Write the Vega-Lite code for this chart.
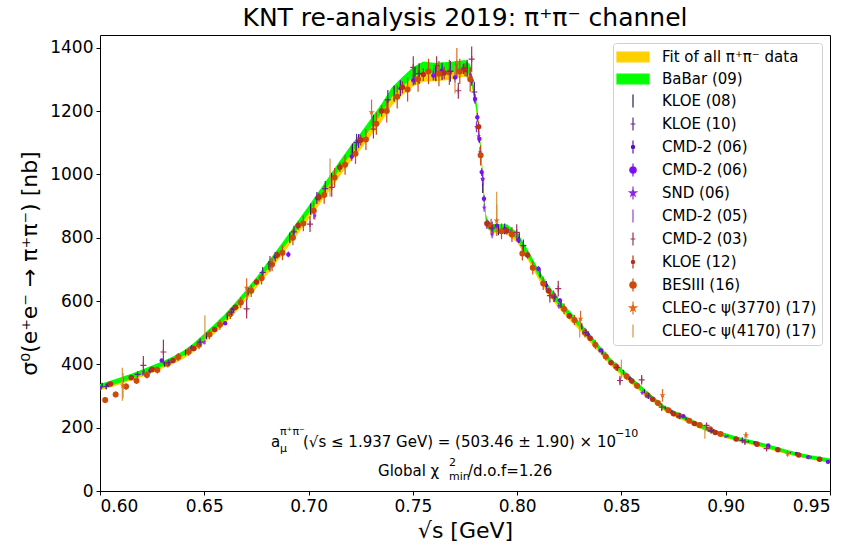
{
"$schema": "https://vega.github.io/schema/vega-lite/v6.json",
"width": 730, "height": 456,
"autosize": {"type": "none"},
"padding": {"left": 100, "top": 35, "right": 18, "bottom": 58},
"background": "white",
"title": {"text": "KNT re-analysis 2019: π⁺π⁻ channel", "fontSize": 25, "font": "DejaVu Sans", "fontWeight": "normal", "color": "black", "offset": 4, "anchor": "middle"},
"config": {
 "view": {"stroke": "black", "strokeWidth": 1},
 "font": "DejaVu Sans",
 "axis": {"grid": false, "domain": false, "tickColor": "black", "tickSize": 4, "labelColor": "black", "titleColor": "black", "labelFont": "DejaVu Sans", "titleFont": "DejaVu Sans", "labelFontSize": 17, "titleFontSize": 22, "titleFontWeight": "normal", "labelPadding": 3},
 "legend": {"orient": "top-right", "offset": 8, "padding": 5, "rowPadding": 5, "labelFontSize": 15, "labelFont": "DejaVu Sans", "labelColor": "black", "strokeColor": "#d0d0d0", "fillColor": "rgba(255,255,255,0.8)", "cornerRadius": 3, "symbolSize": 256, "labelOffset": 26, "labelLimit": 400}
},
"datasets": {
"curve": [
{"x":0.600,"b_lo":322,"b_hi":338,"f_lo":318,"f_hi":332},
{"x":0.605,"b_lo":332,"b_hi":348,"f_lo":327,"f_hi":341},
{"x":0.610,"b_lo":343,"b_hi":359,"f_lo":338,"f_hi":352},
{"x":0.615,"b_lo":354,"b_hi":370,"f_lo":349,"f_hi":363},
{"x":0.620,"b_lo":367,"b_hi":383,"f_lo":360,"f_hi":376},
{"x":0.625,"b_lo":380,"b_hi":396,"f_lo":373,"f_hi":389},
{"x":0.630,"b_lo":394,"b_hi":410,"f_lo":387,"f_hi":403},
{"x":0.635,"b_lo":409,"b_hi":425,"f_lo":401,"f_hi":417},
{"x":0.640,"b_lo":427,"b_hi":443,"f_lo":418,"f_hi":434},
{"x":0.645,"b_lo":449,"b_hi":467,"f_lo":440,"f_hi":456},
{"x":0.650,"b_lo":479,"b_hi":497,"f_lo":469,"f_hi":485},
{"x":0.655,"b_lo":509,"b_hi":527,"f_lo":497,"f_hi":515},
{"x":0.660,"b_lo":541,"b_hi":559,"f_lo":529,"f_hi":547},
{"x":0.665,"b_lo":576,"b_hi":596,"f_lo":564,"f_hi":582},
{"x":0.670,"b_lo":615,"b_hi":635,"f_lo":602,"f_hi":622},
{"x":0.675,"b_lo":655,"b_hi":675,"f_lo":641,"f_hi":661},
{"x":0.680,"b_lo":697,"b_hi":719,"f_lo":682,"f_hi":704},
{"x":0.685,"b_lo":741,"b_hi":763,"f_lo":725,"f_hi":747},
{"x":0.690,"b_lo":786,"b_hi":808,"f_lo":769,"f_hi":791},
{"x":0.695,"b_lo":830,"b_hi":854,"f_lo":812,"f_hi":836},
{"x":0.700,"b_lo":876,"b_hi":900,"f_lo":857,"f_hi":881},
{"x":0.705,"b_lo":923,"b_hi":947,"f_lo":903,"f_hi":927},
{"x":0.710,"b_lo":969,"b_hi":995,"f_lo":948,"f_hi":974},
{"x":0.715,"b_lo":1017,"b_hi":1043,"f_lo":995,"f_hi":1021},
{"x":0.720,"b_lo":1061,"b_hi":1089,"f_lo":1039,"f_hi":1065},
{"x":0.725,"b_lo":1103,"b_hi":1131,"f_lo":1079,"f_hi":1107},
{"x":0.730,"b_lo":1148,"b_hi":1176,"f_lo":1123,"f_hi":1151},
{"x":0.735,"b_lo":1193,"b_hi":1223,"f_lo":1167,"f_hi":1197},
{"x":0.740,"b_lo":1245,"b_hi":1275,"f_lo":1217,"f_hi":1247},
{"x":0.745,"b_lo":1277,"b_hi":1307,"f_lo":1250,"f_hi":1280},
{"x":0.750,"b_lo":1306,"b_hi":1338,"f_lo":1277,"f_hi":1307},
{"x":0.755,"b_lo":1324,"b_hi":1356,"f_lo":1292,"f_hi":1324},
{"x":0.760,"b_lo":1320,"b_hi":1352,"f_lo":1294,"f_hi":1326},
{"x":0.765,"b_lo":1322,"b_hi":1354,"f_lo":1296,"f_hi":1328},
{"x":0.770,"b_lo":1324,"b_hi":1356,"f_lo":1302,"f_hi":1334},
{"x":0.775,"b_lo":1329,"b_hi":1361,"f_lo":1309,"f_hi":1341},
{"x":0.7775,"b_lo":1314,"b_hi":1346,"f_lo":1299,"f_hi":1331},
{"x":0.779,"b_lo":1257,"b_hi":1287,"f_lo":1250,"f_hi":1280},
{"x":0.780,"b_lo":1223,"b_hi":1253,"f_lo":1217,"f_hi":1247},
{"x":0.781,"b_lo":1177,"b_hi":1207,"f_lo":1171,"f_hi":1201},
{"x":0.782,"b_lo":1106,"b_hi":1134,"f_lo":1101,"f_hi":1129},
{"x":0.783,"b_lo":1027,"b_hi":1053,"f_lo":1023,"f_hi":1049},
{"x":0.784,"b_lo":930,"b_hi":954,"f_lo":928,"f_hi":952},
{"x":0.785,"b_lo":850,"b_hi":874,"f_lo":850,"f_hi":874},
{"x":0.786,"b_lo":828,"b_hi":852,"f_lo":826,"f_hi":850},
{"x":0.788,"b_lo":820,"b_hi":844,"f_lo":816,"f_hi":840},
{"x":0.790,"b_lo":818,"b_hi":842,"f_lo":813,"f_hi":837},
{"x":0.795,"b_lo":818,"b_hi":842,"f_lo":810,"f_hi":834},
{"x":0.800,"b_lo":795,"b_hi":817,"f_lo":785,"f_hi":807},
{"x":0.805,"b_lo":741,"b_hi":763,"f_lo":731,"f_hi":753},
{"x":0.810,"b_lo":681,"b_hi":703,"f_lo":671,"f_hi":693},
{"x":0.815,"b_lo":630,"b_hi":650,"f_lo":620,"f_hi":640},
{"x":0.820,"b_lo":586,"b_hi":606,"f_lo":576,"f_hi":596},
{"x":0.825,"b_lo":551,"b_hi":569,"f_lo":541,"f_hi":559},
{"x":0.830,"b_lo":516,"b_hi":534,"f_lo":507,"f_hi":525},
{"x":0.835,"b_lo":477,"b_hi":495,"f_lo":469,"f_hi":487},
{"x":0.840,"b_lo":439,"b_hi":455,"f_lo":432,"f_hi":448},
{"x":0.845,"b_lo":402,"b_hi":418,"f_lo":395,"f_hi":411},
{"x":0.850,"b_lo":372,"b_hi":388,"f_lo":365,"f_hi":381},
{"x":0.855,"b_lo":342,"b_hi":358,"f_lo":336,"f_hi":352},
{"x":0.860,"b_lo":313,"b_hi":329,"f_lo":308,"f_hi":324},
{"x":0.865,"b_lo":285,"b_hi":299,"f_lo":281,"f_hi":295},
{"x":0.870,"b_lo":258,"b_hi":272,"f_lo":255,"f_hi":269},
{"x":0.875,"b_lo":240,"b_hi":254,"f_lo":236,"f_hi":250},
{"x":0.880,"b_lo":225,"b_hi":239,"f_lo":221,"f_hi":235},
{"x":0.885,"b_lo":208,"b_hi":222,"f_lo":205,"f_hi":219},
{"x":0.890,"b_lo":193,"b_hi":207,"f_lo":190,"f_hi":204},
{"x":0.895,"b_lo":181,"b_hi":193,"f_lo":178,"f_hi":190},
{"x":0.900,"b_lo":170,"b_hi":182,"f_lo":167,"f_hi":179},
{"x":0.905,"b_lo":160,"b_hi":172,"f_lo":157,"f_hi":169},
{"x":0.910,"b_lo":152,"b_hi":164,"f_lo":149,"f_hi":161},
{"x":0.915,"b_lo":144,"b_hi":156,"f_lo":141,"f_hi":153},
{"x":0.920,"b_lo":136,"b_hi":148,"f_lo":133,"f_hi":145},
{"x":0.925,"b_lo":126,"b_hi":138,"f_lo":124,"f_hi":136},
{"x":0.930,"b_lo":117,"b_hi":129,"f_lo":115,"f_hi":127},
{"x":0.935,"b_lo":109,"b_hi":121,"f_lo":107,"f_hi":119},
{"x":0.940,"b_lo":102,"b_hi":114,"f_lo":100,"f_hi":112},
{"x":0.945,"b_lo":96,"b_hi":108,"f_lo":94,"f_hi":106},
{"x":0.950,"b_lo":91,"b_hi":103,"f_lo":89,"f_hi":101}
],
"pts": [
{"e":"KLOE (08)","x":0.601,"y":335,"lo":328,"hi":342},
{"e":"KLOE (08)","x":0.611,"y":352,"lo":345,"hi":359},
{"e":"KLOE (08)","x":0.621,"y":376,"lo":368,"hi":384},
{"e":"KLOE (08)","x":0.631,"y":400,"lo":392,"hi":408},
{"e":"KLOE (08)","x":0.641,"y":437,"lo":428,"hi":446},
{"e":"KLOE (08)","x":0.651,"y":490,"lo":480,"hi":500},
{"e":"KLOE (08)","x":0.661,"y":552,"lo":541,"hi":563},
{"e":"KLOE (08)","x":0.671,"y":630,"lo":617,"hi":643},
{"e":"KLOE (08)","x":0.681,"y":712,"lo":698,"hi":726},
{"e":"KLOE (08)","x":0.691,"y":800,"lo":784,"hi":816},
{"e":"KLOE (08)","x":0.701,"y":890,"lo":872,"hi":908},
{"e":"KLOE (08)","x":0.711,"y":985,"lo":965,"hi":1005},
{"e":"KLOE (08)","x":0.721,"y":1075,"lo":1053,"hi":1097},
{"e":"KLOE (08)","x":0.731,"y":1165,"lo":1142,"hi":1188},
{"e":"KLOE (08)","x":0.741,"y":1255,"lo":1230,"hi":1280},
{"e":"KLOE (08)","x":0.751,"y":1310,"lo":1284,"hi":1336},
{"e":"KLOE (08)","x":0.761,"y":1320,"lo":1294,"hi":1346},
{"e":"KLOE (08)","x":0.771,"y":1330,"lo":1303,"hi":1357},
{"e":"KLOE (08)","x":0.776,"y":1335,"lo":1308,"hi":1362},
{"e":"KLOE (08)","x":0.7835,"y":960,"lo":941,"hi":979},
{"e":"KLOE (08)","x":0.791,"y":825,"lo":808,"hi":842},
{"e":"KLOE (08)","x":0.801,"y":800,"lo":784,"hi":816},
{"e":"KLOE (08)","x":0.811,"y":688,"lo":674,"hi":702},
{"e":"KLOE (08)","x":0.821,"y":590,"lo":578,"hi":602},
{"e":"KLOE (08)","x":0.831,"y":520,"lo":510,"hi":530},
{"e":"KLOE (08)","x":0.841,"y":440,"lo":431,"hi":449},
{"e":"KLOE (08)","x":0.851,"y":375,"lo":368,"hi":382},
{"e":"KLOE (08)","x":0.861,"y":315,"lo":309,"hi":321},
{"e":"KLOE (08)","x":0.871,"y":262,"lo":257,"hi":267},
{"e":"KLOE (08)","x":0.881,"y":228,"lo":223,"hi":233},
{"e":"KLOE (08)","x":0.891,"y":198,"lo":194,"hi":202},
{"e":"KLOE (08)","x":0.901,"y":174,"lo":171,"hi":177},
{"e":"KLOE (08)","x":0.911,"y":156,"lo":153,"hi":159},
{"e":"KLOE (08)","x":0.921,"y":140,"lo":137,"hi":143},
{"e":"KLOE (08)","x":0.931,"y":121,"lo":119,"hi":123},
{"e":"KLOE (08)","x":0.941,"y":107,"lo":105,"hi":109},
{"e":"KLOE (10)","x":0.603,"y":330,"lo":322,"hi":338},
{"e":"KLOE (10)","x":0.618,"y":368,"lo":359,"hi":377},
{"e":"KLOE (10)","x":0.633,"y":405,"lo":395,"hi":415},
{"e":"KLOE (10)","x":0.648,"y":470,"lo":458,"hi":482},
{"e":"KLOE (10)","x":0.663,"y":565,"lo":551,"hi":579},
{"e":"KLOE (10)","x":0.678,"y":690,"lo":673,"hi":707},
{"e":"KLOE (10)","x":0.693,"y":818,"lo":798,"hi":838},
{"e":"KLOE (10)","x":0.708,"y":955,"lo":931,"hi":979},
{"e":"KLOE (10)","x":0.723,"y":1100,"lo":1072,"hi":1128},
{"e":"KLOE (10)","x":0.738,"y":1235,"lo":1204,"hi":1266},
{"e":"KLOE (10)","x":0.753,"y":1318,"lo":1285,"hi":1351},
{"e":"KLOE (10)","x":0.768,"y":1325,"lo":1292,"hi":1358},
{"e":"KLOE (10)","x":0.7795,"y":1260,"lo":1228,"hi":1292},
{"e":"KLOE (10)","x":0.788,"y":830,"lo":809,"hi":851},
{"e":"KLOE (10)","x":0.803,"y":775,"lo":756,"hi":794},
{"e":"KLOE (10)","x":0.818,"y":612,"lo":597,"hi":627},
{"e":"KLOE (10)","x":0.833,"y":500,"lo":488,"hi":512},
{"e":"KLOE (10)","x":0.848,"y":390,"lo":380,"hi":400},
{"e":"KLOE (10)","x":0.863,"y":300,"lo":292,"hi":308},
{"e":"KLOE (10)","x":0.878,"y":236,"lo":230,"hi":242},
{"e":"KLOE (10)","x":0.893,"y":190,"lo":185,"hi":195},
{"e":"KLOE (10)","x":0.908,"y":160,"lo":156,"hi":164},
{"e":"CMD-2 (06)","x":0.604,"y":336,"lo":329,"hi":343},
{"e":"CMD-2 (06)","x":0.624,"y":380,"lo":372,"hi":388},
{"e":"CMD-2 (06)","x":0.644,"y":452,"lo":443,"hi":461},
{"e":"CMD-2 (06)","x":0.664,"y":575,"lo":563,"hi":587},
{"e":"CMD-2 (06)","x":0.684,"y":740,"lo":725,"hi":755},
{"e":"CMD-2 (06)","x":0.704,"y":925,"lo":906,"hi":944},
{"e":"CMD-2 (06)","x":0.724,"y":1105,"lo":1083,"hi":1127},
{"e":"CMD-2 (06)","x":0.744,"y":1272,"lo":1247,"hi":1297},
{"e":"CMD-2 (06)","x":0.764,"y":1325,"lo":1298,"hi":1352},
{"e":"CMD-2 (06)","x":0.7835,"y":985,"lo":965,"hi":1005},
{"e":"CMD-2 (06)","x":0.794,"y":828,"lo":811,"hi":845},
{"e":"CMD-2 (06)","x":0.814,"y":650,"lo":637,"hi":663},
{"e":"CMD-2 (06)","x":0.834,"y":495,"lo":485,"hi":505},
{"e":"CMD-2 (06)","x":0.854,"y":355,"lo":348,"hi":362},
{"e":"CMD-2 (06)","x":0.874,"y":250,"lo":245,"hi":255},
{"e":"CMD-2 (06)","x":0.894,"y":190,"lo":186,"hi":194},
{"e":"CMD-2 (06)","x":0.914,"y":152,"lo":149,"hi":155},
{"e":"CMD-2 (06)","x":0.934,"y":118,"lo":116,"hi":120},
{"e":"CMD-2 (06)#2","x":0.600,"y":326,"lo":322,"hi":330},
{"e":"CMD-2 (06)#2","x":0.6296,"y":412,"lo":407,"hi":417},
{"e":"CMD-2 (06)#2","x":0.660,"y":530,"lo":524,"hi":536},
{"e":"CMD-2 (06)#2","x":0.6903,"y":747,"lo":738,"hi":756},
{"e":"CMD-2 (06)#2","x":0.7207,"y":1056,"lo":1043,"hi":1069},
{"e":"CMD-2 (06)#2","x":0.7502,"y":1297,"lo":1281,"hi":1313},
{"e":"CMD-2 (06)#2","x":0.7598,"y":1312,"lo":1296,"hi":1328},
{"e":"CMD-2 (06)#2","x":0.7638,"y":1327,"lo":1311,"hi":1343},
{"e":"CMD-2 (06)#2","x":0.7702,"y":1306,"lo":1290,"hi":1322},
{"e":"CMD-2 (06)#2","x":0.7742,"y":1333,"lo":1317,"hi":1349},
{"e":"CMD-2 (06)#2","x":0.7782,"y":1296,"lo":1280,"hi":1312},
{"e":"CMD-2 (06)#2","x":0.7798,"y":1238,"lo":1223,"hi":1253},
{"e":"CMD-2 (06)#2","x":0.7809,"y":1180,"lo":1166,"hi":1194},
{"e":"CMD-2 (06)#2","x":0.7819,"y":1112,"lo":1099,"hi":1125},
{"e":"CMD-2 (06)#2","x":0.7830,"y":1007,"lo":995,"hi":1019},
{"e":"CMD-2 (06)#2","x":0.7841,"y":923,"lo":912,"hi":934},
{"e":"CMD-2 (06)#2","x":0.7862,"y":844,"lo":834,"hi":854},
{"e":"CMD-2 (06)#2","x":0.7902,"y":838,"lo":828,"hi":848},
{"e":"CMD-2 (06)#2","x":0.7942,"y":823,"lo":813,"hi":833},
{"e":"CMD-2 (06)#2","x":0.8006,"y":793,"lo":783,"hi":803},
{"e":"CMD-2 (06)#2","x":0.8102,"y":702,"lo":694,"hi":710},
{"e":"CMD-2 (06)#2","x":0.8205,"y":602,"lo":595,"hi":609},
{"e":"CMD-2 (06)#2","x":0.8400,"y":444,"lo":439,"hi":449},
{"e":"CMD-2 (06)#2","x":0.8797,"y":236,"lo":233,"hi":239},
{"e":"CMD-2 (06)#2","x":0.9204,"y":144,"lo":142,"hi":146},
{"e":"CMD-2 (06)#2","x":0.9396,"y":107,"lo":106,"hi":108},
{"e":"CMD-2 (06)#2","x":0.9490,"y":92,"lo":91,"hi":93},
{"e":"SND (06)","x":0.650,"y":470,"lo":463,"hi":477},
{"e":"SND (06)","x":0.703,"y":870,"lo":857,"hi":883},
{"e":"SND (06)","x":0.760,"y":1318,"lo":1298,"hi":1338},
{"e":"SND (06)","x":0.7775,"y":1315,"lo":1295,"hi":1335},
{"e":"SND (06)","x":0.7805,"y":1150,"lo":1133,"hi":1167},
{"e":"SND (06)","x":0.7815,"y":1120,"lo":1103,"hi":1137},
{"e":"SND (06)","x":0.7822,"y":1070,"lo":1054,"hi":1086},
{"e":"SND (06)","x":0.7834,"y":985,"lo":970,"hi":1000},
{"e":"SND (06)","x":0.7842,"y":895,"lo":882,"hi":908},
{"e":"SND (06)","x":0.7855,"y":840,"lo":827,"hi":853},
{"e":"SND (06)","x":0.788,"y":810,"lo":798,"hi":822},
{"e":"SND (06)","x":0.797,"y":815,"lo":803,"hi":827},
{"e":"SND (06)","x":0.820,"y":585,"lo":576,"hi":594},
{"e":"SND (06)","x":0.860,"y":310,"lo":305,"hi":315},
{"e":"SND (06)","x":0.900,"y":172,"lo":169,"hi":175},
{"e":"SND (06)","x":0.940,"y":105,"lo":103,"hi":107},
{"e":"CMD-2 (05)","x":0.6205,"y":372,"lo":364,"hi":380},
{"e":"CMD-2 (05)","x":0.6705,"y":615,"lo":603,"hi":627},
{"e":"CMD-2 (05)","x":0.7205,"y":1070,"lo":1050,"hi":1090},
{"e":"CMD-2 (05)","x":0.7705,"y":1330,"lo":1305,"hi":1355},
{"e":"CMD-2 (05)","x":0.7885,"y":826,"lo":811,"hi":841},
{"e":"CMD-2 (05)","x":0.8405,"y":440,"lo":430,"hi":450},
{"e":"CMD-2 (05)","x":0.8905,"y":196,"lo":191,"hi":201},
{"e":"CMD-2 (03)","x":0.6208,"y":397,"lo":368,"hi":426},
{"e":"CMD-2 (03)","x":0.6304,"y":439,"lo":400,"hi":478},
{"e":"CMD-2 (03)","x":0.6703,"y":575,"lo":545,"hi":605},
{"e":"CMD-2 (03)","x":0.6815,"y":717,"lo":692,"hi":742},
{"e":"CMD-2 (03)","x":0.7007,"y":843,"lo":818,"hi":868},
{"e":"CMD-2 (03)","x":0.7111,"y":959,"lo":929,"hi":989},
{"e":"CMD-2 (03)","x":0.7311,"y":1143,"lo":1113,"hi":1173},
{"e":"CMD-2 (03)","x":0.7502,"y":1338,"lo":1303,"hi":1373},
{"e":"CMD-2 (03)","x":0.7614,"y":1343,"lo":1313,"hi":1373},
{"e":"CMD-2 (03)","x":0.7718,"y":1264,"lo":1239,"hi":1289},
{"e":"CMD-2 (03)","x":0.7782,"y":1364,"lo":1324,"hi":1404},
{"e":"CMD-2 (03)","x":0.7998,"y":817,"lo":792,"hi":842},
{"e":"CMD-2 (03)","x":0.8157,"y":617,"lo":595,"hi":639},
{"e":"CMD-2 (03)","x":0.8197,"y":639,"lo":614,"hi":664},
{"e":"CMD-2 (03)","x":0.8493,"y":349,"lo":334,"hi":364},
{"e":"CMD-2 (03)","x":0.8597,"y":351,"lo":336,"hi":366},
{"e":"CMD-2 (03)","x":0.8693,"y":265,"lo":253,"hi":277},
{"e":"CMD-2 (03)","x":0.8908,"y":207,"lo":199,"hi":215},
{"e":"CMD-2 (03)","x":0.9092,"y":155,"lo":149,"hi":161},
{"e":"CMD-2 (03)","x":0.9196,"y":134,"lo":129,"hi":139},
{"e":"KLOE (12)","x":0.605,"y":338,"lo":333,"hi":343},
{"e":"KLOE (12)","x":0.615,"y":358,"lo":353,"hi":363},
{"e":"KLOE (12)","x":0.625,"y":384,"lo":378,"hi":390},
{"e":"KLOE (12)","x":0.635,"y":412,"lo":406,"hi":418},
{"e":"KLOE (12)","x":0.645,"y":450,"lo":443,"hi":457},
{"e":"KLOE (12)","x":0.655,"y":510,"lo":502,"hi":518},
{"e":"KLOE (12)","x":0.665,"y":580,"lo":571,"hi":589},
{"e":"KLOE (12)","x":0.675,"y":660,"lo":650,"hi":670},
{"e":"KLOE (12)","x":0.685,"y":745,"lo":734,"hi":756},
{"e":"KLOE (12)","x":0.695,"y":838,"lo":825,"hi":851},
{"e":"KLOE (12)","x":0.705,"y":928,"lo":914,"hi":942},
{"e":"KLOE (12)","x":0.715,"y":1022,"lo":1007,"hi":1037},
{"e":"KLOE (12)","x":0.725,"y":1108,"lo":1091,"hi":1125},
{"e":"KLOE (12)","x":0.735,"y":1200,"lo":1182,"hi":1218},
{"e":"KLOE (12)","x":0.745,"y":1275,"lo":1256,"hi":1294},
{"e":"KLOE (12)","x":0.755,"y":1315,"lo":1295,"hi":1335},
{"e":"KLOE (12)","x":0.765,"y":1320,"lo":1300,"hi":1340},
{"e":"KLOE (12)","x":0.775,"y":1330,"lo":1310,"hi":1350},
{"e":"KLOE (12)","x":0.7815,"y":1150,"lo":1133,"hi":1167},
{"e":"KLOE (12)","x":0.7855,"y":845,"lo":832,"hi":858},
{"e":"KLOE (12)","x":0.795,"y":822,"lo":810,"hi":834},
{"e":"KLOE (12)","x":0.805,"y":745,"lo":734,"hi":756},
{"e":"KLOE (12)","x":0.815,"y":632,"lo":623,"hi":641},
{"e":"KLOE (12)","x":0.825,"y":553,"lo":545,"hi":561},
{"e":"KLOE (12)","x":0.835,"y":482,"lo":475,"hi":489},
{"e":"KLOE (12)","x":0.845,"y":405,"lo":399,"hi":411},
{"e":"KLOE (12)","x":0.855,"y":347,"lo":342,"hi":352},
{"e":"KLOE (12)","x":0.865,"y":290,"lo":286,"hi":294},
{"e":"KLOE (12)","x":0.875,"y":244,"lo":240,"hi":248},
{"e":"KLOE (12)","x":0.885,"y":213,"lo":210,"hi":216},
{"e":"KLOE (12)","x":0.895,"y":185,"lo":182,"hi":188},
{"e":"KLOE (12)","x":0.905,"y":164,"lo":162,"hi":166},
{"e":"KLOE (12)","x":0.915,"y":148,"lo":146,"hi":150},
{"e":"KLOE (12)","x":0.925,"y":130,"lo":128,"hi":132},
{"e":"KLOE (12)","x":0.935,"y":114,"lo":112,"hi":116},
{"e":"KLOE (12)","x":0.945,"y":100,"lo":98,"hi":102},
{"e":"BESIII (16)","x":0.6025,"y":287,"lo":278,"hi":296},
{"e":"BESIII (16)","x":0.6075,"y":305,"lo":296,"hi":314},
{"e":"BESIII (16)","x":0.6125,"y":330,"lo":320,"hi":340},
{"e":"BESIII (16)","x":0.6175,"y":348,"lo":338,"hi":358},
{"e":"BESIII (16)","x":0.6225,"y":366,"lo":355,"hi":377},
{"e":"BESIII (16)","x":0.6275,"y":382,"lo":371,"hi":393},
{"e":"BESIII (16)","x":0.6325,"y":402,"lo":390,"hi":414},
{"e":"BESIII (16)","x":0.6375,"y":423,"lo":410,"hi":436},
{"e":"BESIII (16)","x":0.6425,"y":440,"lo":427,"hi":453},
{"e":"BESIII (16)","x":0.6475,"y":462,"lo":448,"hi":476},
{"e":"BESIII (16)","x":0.6525,"y":494,"lo":479,"hi":509},
{"e":"BESIII (16)","x":0.6575,"y":525,"lo":509,"hi":541},
{"e":"BESIII (16)","x":0.6625,"y":560,"lo":543,"hi":577},
{"e":"BESIII (16)","x":0.6675,"y":595,"lo":577,"hi":613},
{"e":"BESIII (16)","x":0.6725,"y":632,"lo":613,"hi":651},
{"e":"BESIII (16)","x":0.6775,"y":672,"lo":652,"hi":692},
{"e":"BESIII (16)","x":0.6825,"y":715,"lo":694,"hi":736},
{"e":"BESIII (16)","x":0.6875,"y":752,"lo":729,"hi":775},
{"e":"BESIII (16)","x":0.6925,"y":800,"lo":776,"hi":824},
{"e":"BESIII (16)","x":0.6975,"y":845,"lo":820,"hi":870},
{"e":"BESIII (16)","x":0.7025,"y":885,"lo":858,"hi":912},
{"e":"BESIII (16)","x":0.7075,"y":935,"lo":907,"hi":963},
{"e":"BESIII (16)","x":0.7125,"y":990,"lo":960,"hi":1020},
{"e":"BESIII (16)","x":0.7175,"y":1030,"lo":999,"hi":1061},
{"e":"BESIII (16)","x":0.7225,"y":1065,"lo":1033,"hi":1097},
{"e":"BESIII (16)","x":0.7275,"y":1110,"lo":1077,"hi":1143},
{"e":"BESIII (16)","x":0.7325,"y":1160,"lo":1125,"hi":1195},
{"e":"BESIII (16)","x":0.7375,"y":1200,"lo":1164,"hi":1236},
{"e":"BESIII (16)","x":0.7425,"y":1245,"lo":1208,"hi":1282},
{"e":"BESIII (16)","x":0.7475,"y":1268,"lo":1230,"hi":1306},
{"e":"BESIII (16)","x":0.7525,"y":1300,"lo":1261,"hi":1339},
{"e":"BESIII (16)","x":0.7575,"y":1325,"lo":1285,"hi":1365},
{"e":"BESIII (16)","x":0.7625,"y":1318,"lo":1278,"hi":1358},
{"e":"BESIII (16)","x":0.7675,"y":1322,"lo":1282,"hi":1362},
{"e":"BESIII (16)","x":0.7725,"y":1325,"lo":1285,"hi":1365},
{"e":"BESIII (16)","x":0.7775,"y":1300,"lo":1261,"hi":1339},
{"e":"BESIII (16)","x":0.7825,"y":1060,"lo":1028,"hi":1092},
{"e":"BESIII (16)","x":0.7875,"y":835,"lo":810,"hi":860},
{"e":"BESIII (16)","x":0.7925,"y":820,"lo":795,"hi":845},
{"e":"BESIII (16)","x":0.7975,"y":810,"lo":786,"hi":834},
{"e":"BESIII (16)","x":0.8025,"y":750,"lo":728,"hi":772},
{"e":"BESIII (16)","x":0.8075,"y":705,"lo":684,"hi":726},
{"e":"BESIII (16)","x":0.8125,"y":655,"lo":635,"hi":675},
{"e":"BESIII (16)","x":0.8175,"y":615,"lo":597,"hi":633},
{"e":"BESIII (16)","x":0.8225,"y":575,"lo":558,"hi":592},
{"e":"BESIII (16)","x":0.8275,"y":540,"lo":524,"hi":556},
{"e":"BESIII (16)","x":0.8325,"y":500,"lo":485,"hi":515},
{"e":"BESIII (16)","x":0.8375,"y":462,"lo":448,"hi":476},
{"e":"BESIII (16)","x":0.8425,"y":425,"lo":412,"hi":438},
{"e":"BESIII (16)","x":0.8475,"y":392,"lo":380,"hi":404},
{"e":"BESIII (16)","x":0.8525,"y":362,"lo":351,"hi":373},
{"e":"BESIII (16)","x":0.8575,"y":332,"lo":322,"hi":342},
{"e":"BESIII (16)","x":0.8625,"y":302,"lo":293,"hi":311},
{"e":"BESIII (16)","x":0.8675,"y":278,"lo":270,"hi":286},
{"e":"BESIII (16)","x":0.8725,"y":255,"lo":247,"hi":263},
{"e":"BESIII (16)","x":0.8775,"y":238,"lo":231,"hi":245},
{"e":"BESIII (16)","x":0.8825,"y":222,"lo":215,"hi":229},
{"e":"BESIII (16)","x":0.8875,"y":208,"lo":202,"hi":214},
{"e":"BESIII (16)","x":0.8925,"y":195,"lo":189,"hi":201},
{"e":"BESIII (16)","x":0.8975,"y":180,"lo":175,"hi":185},
{"e":"CLEO-c ψ(3770) (17)","x":0.611,"y":333,"lo":293,"hi":373},
{"e":"CLEO-c ψ(3770) (17)","x":0.6703,"y":642,"lo":612,"hi":672},
{"e":"CLEO-c ψ(3770) (17)","x":0.7302,"y":1196,"lo":1156,"hi":1236},
{"e":"CLEO-c ψ(3770) (17)","x":0.7711,"y":1354,"lo":1309,"hi":1399},
{"e":"CLEO-c ψ(3770) (17)","x":0.7902,"y":854,"lo":805,"hi":905},
{"e":"CLEO-c ψ(3770) (17)","x":0.8304,"y":544,"lo":519,"hi":569},
{"e":"CLEO-c ψ(3770) (17)","x":0.8697,"y":302,"lo":282,"hi":322},
{"e":"CLEO-c ψ(3770) (17)","x":0.9097,"y":176,"lo":166,"hi":186},
{"e":"CLEO-c ψ(3770) (17)","x":0.9297,"y":118,"lo":108,"hi":128},
{"e":"CLEO-c ψ(4170) (17)","x":0.6107,"y":337,"lo":285,"hi":389},
{"e":"CLEO-c ψ(4170) (17)","x":0.6503,"y":510,"lo":465,"hi":555},
{"e":"CLEO-c ψ(4170) (17)","x":0.7103,"y":990,"lo":930,"hi":1050},
{"e":"CLEO-c ψ(4170) (17)","x":0.7702,"y":1300,"lo":1255,"hi":1345},
{"e":"CLEO-c ψ(4170) (17)","x":0.7902,"y":890,"lo":835,"hi":945},
{"e":"CLEO-c ψ(4170) (17)","x":0.830,"y":515,"lo":485,"hi":545},
{"e":"CLEO-c ψ(4170) (17)","x":0.850,"y":385,"lo":355,"hi":415},
{"e":"CLEO-c ψ(4170) (17)","x":0.890,"y":183,"lo":165,"hi":201}
],
"ann": [
{"t":"a","x":0.68199,"y":139},
{"t":"(√s ≤ 1.937 GeV) = (503.46 ± 1.90) × 10","x":0.69733,"y":139},
{"t":"Global χ","x":0.73329,"y":47},
{"t":"/d.o.f=1.26","x":0.77644,"y":47}
],
"ann2": [
{"t":"μ","x":0.68630,"y":124},
{"t":"π⁺π⁻","x":0.68630,"y":177},
{"t":"−10","x":0.84692,"y":172},
{"t":"2","x":0.76733,"y":79},
{"t":"min","x":0.76733,"y":35}
]
},
"layer": [
{"data": {"name": "curve"},
 "mark": {"type": "area", "color": "#FFD000", "clip": true},
 "encoding": {
  "x": {"field": "x", "type": "quantitative", "scale": {"domain": [0.6, 0.95], "nice": false, "zero": false},
        "axis": {"values": [0.6, 0.65, 0.7, 0.75, 0.8, 0.85, 0.9, 0.95], "format": ".2f", "title": "√s [GeV]", "titlePadding": 6}},
  "y": {"field": "f_lo", "type": "quantitative", "scale": {"domain": [0, 1440], "nice": false},
        "axis": {"values": [0, 200, 400, 600, 800, 1000, 1200, 1400], "format": "d", "title": "σ⁰(e⁺e⁻ → π⁺π⁻) [nb]", "titlePadding": 8}},
  "y2": {"field": "f_hi"}
 }},
{"data": {"name": "curve"},
 "mark": {"type": "area", "color": "#00FF00", "clip": true},
 "encoding": {
  "x": {"field": "x", "type": "quantitative", "title": "√s [GeV]"},
  "y": {"field": "b_lo", "type": "quantitative", "title": "σ⁰(e⁺e⁻ → π⁺π⁻) [nb]"},
  "y2": {"field": "b_hi"}
 }},
{"data": {"name": "pts"},
 "mark": {"type": "rule", "strokeWidth": 1.2, "clip": true},
 "encoding": {
  "x": {"field": "x", "type": "quantitative", "title": "√s [GeV]"},
  "y": {"field": "lo", "type": "quantitative", "title": "σ⁰(e⁺e⁻ → π⁺π⁻) [nb]"},
  "y2": {"field": "hi"},
  "color": {"field": "e", "type": "nominal",
   "scale": {"domain": ["Fit of all π⁺π⁻ data", "BaBar (09)", "KLOE (08)", "KLOE (10)", "CMD-2 (06)", "CMD-2 (06)#2", "SND (06)", "CMD-2 (05)", "CMD-2 (03)", "KLOE (12)", "BESIII (16)", "CLEO-c ψ(3770) (17)", "CLEO-c ψ(4170) (17)"],
             "range": ["#FFD000", "#00FF00", "#2c1a54", "#5b2a8c", "#5a10c8", "#7a10ef", "#8a2be2", "#9a40c0", "#a0305a", "#b5301a", "#cc4a0a", "#e06a20", "#d9943c"]},
   "legend": {"title": null, "labelExpr": "replace(datum.label, '#2', '')",
    "encode": {"symbols": {"update": {
      "shape": {"signal": "['M-1.25,-0.6H2.75V0.6H-1.25Z','M-1.25,-0.6H2.75V0.6H-1.25Z','M0.75,-0.8V0.8','M0.75,-0.8V0.8M0.45,0H1.05','M0.75,-0.8V0.8M0.55,0A0.2,0.2 0 1,0 0.95,0A0.2,0.2 0 1,0 0.55,0Z','M0.75,-0.8V0.8M0.35,0A0.4,0.4 0 1,0 1.15,0A0.4,0.4 0 1,0 0.35,0Z','M0.75,-0.8V0.8M0.75,-0.44L0.849,-0.135L1.168,-0.136L0.909,0.051L1.009,0.356L0.75,0.167L0.491,0.356L0.591,0.051L0.332,-0.136L0.651,-0.135Z','M0.75,-0.8V0.8','M0.75,-0.8V0.8M0.45,0H1.05','M0.75,-0.8V0.8M0.55,0A0.2,0.2 0 1,0 0.95,0A0.2,0.2 0 1,0 0.55,0Z','M0.75,-0.8V0.8M0.35,0A0.4,0.4 0 1,0 1.15,0A0.4,0.4 0 1,0 0.35,0Z','M0.75,-0.8V0.8M0.75,-0.44L0.849,-0.135L1.168,-0.136L0.909,0.051L1.009,0.356L0.75,0.167L0.491,0.356L0.591,0.051L0.332,-0.136L0.651,-0.135Z','M0.75,-0.8V0.8'][indexof(['Fit of all π⁺π⁻ data','BaBar (09)','KLOE (08)','KLOE (10)','CMD-2 (06)','CMD-2 (06)#2','SND (06)','CMD-2 (05)','CMD-2 (03)','KLOE (12)','BESIII (16)','CLEO-c ψ(3770) (17)','CLEO-c ψ(4170) (17)'], datum.value)]"},
      "fill": {"scale": "color", "field": "value"},
      "stroke": {"scale": "color", "field": "value"},
      "strokeWidth": {"value": 1.2},
      "opacity": {"value": 1}
    }}}}
  }
 }},
{"data": {"name": "pts"},
 "transform": [{"filter": "indexof(['CMD-2 (06)','CMD-2 (06)#2','SND (06)','KLOE (12)','BESIII (16)','CLEO-c ψ(3770) (17)'], datum.e) >= 0"}],
 "mark": {"type": "point", "filled": true, "opacity": 1, "clip": true},
 "encoding": {
  "x": {"field": "x", "type": "quantitative", "title": "√s [GeV]"},
  "y": {"field": "y", "type": "quantitative", "title": "σ⁰(e⁺e⁻ → π⁺π⁻) [nb]"},
  "color": {"field": "e", "type": "nominal"},
  "shape": {"field": "e", "type": "nominal", "legend": null,
   "scale": {"domain": ["CMD-2 (06)", "CMD-2 (06)#2", "SND (06)", "KLOE (12)", "BESIII (16)", "CLEO-c ψ(3770) (17)"],
             "range": ["circle", "circle", "M0,-1L0.224,-0.307L0.951,-0.309L0.362,0.117L0.588,0.809L0,0.38L-0.588,0.809L-0.362,0.117L-0.951,-0.309L-0.224,-0.307Z", "circle", "circle", "M0,-1L0.224,-0.307L0.951,-0.309L0.362,0.117L0.588,0.809L0,0.38L-0.588,0.809L-0.362,0.117L-0.951,-0.309L-0.224,-0.307Z"]}},
  "size": {"field": "e", "type": "nominal", "legend": null,
   "scale": {"domain": ["CMD-2 (06)", "CMD-2 (06)#2", "SND (06)", "KLOE (12)", "BESIII (16)", "CLEO-c ψ(3770) (17)"],
             "range": [14, 42, 45, 14, 42, 50]}}
 }},
{"data": {"name": "pts"},
 "transform": [{"filter": "indexof(['KLOE (10)','CMD-2 (03)'], datum.e) >= 0"}],
 "mark": {"type": "point", "filled": false, "opacity": 1, "strokeWidth": 1.2, "shape": "M-1,0H1M0,-1V1", "size": 36, "clip": true},
 "encoding": {
  "x": {"field": "x", "type": "quantitative", "title": "√s [GeV]"},
  "y": {"field": "y", "type": "quantitative", "title": "σ⁰(e⁺e⁻ → π⁺π⁻) [nb]"},
  "color": {"field": "e", "type": "nominal"}
 }},
{"data": {"name": "ann"},
 "mark": {"type": "text", "align": "left", "baseline": "alphabetic", "fontSize": 15, "font": "DejaVu Sans", "color": "black"},
 "encoding": {
  "x": {"field": "x", "type": "quantitative", "title": "√s [GeV]"},
  "y": {"field": "y", "type": "quantitative", "title": "σ⁰(e⁺e⁻ → π⁺π⁻) [nb]"},
  "text": {"field": "t"}
 }},
{"data": {"name": "ann2"},
 "mark": {"type": "text", "align": "left", "baseline": "alphabetic", "fontSize": 11, "font": "DejaVu Sans", "color": "black"},
 "encoding": {
  "x": {"field": "x", "type": "quantitative", "title": "√s [GeV]"},
  "y": {"field": "y", "type": "quantitative", "title": "σ⁰(e⁺e⁻ → π⁺π⁻) [nb]"},
  "text": {"field": "t"}
 }}
]
}
